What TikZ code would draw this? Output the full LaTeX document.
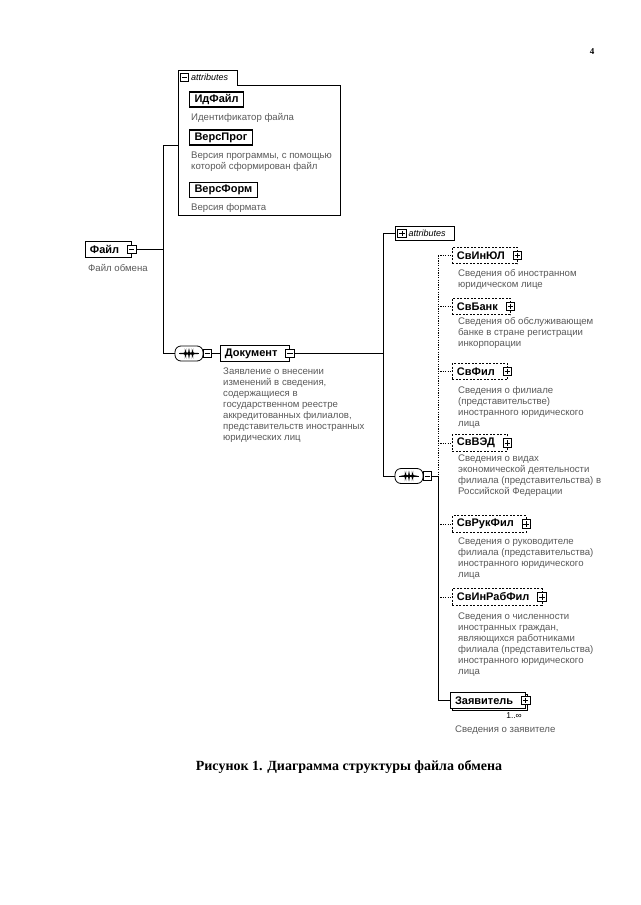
\documentclass[tikz,border=0pt]{standalone}
\usepackage{fontspec}
\setmainfont{Liberation Sans}
\newfontfamily\serifcap{Liberation Serif}
\usetikzlibrary{shadows}
\begin{document}
\begin{tikzpicture}[x=1pt,y=-1pt,
  conn/.style={line width=0.8pt},
  optconn/.style={line width=0.8pt, dash pattern=on 1.2pt off 1.2pt},
  lbl/.style={font=\fontsize{11}{13}\selectfont\bfseries},
  attrbox/.style={draw, line width=1.1pt, lbl, inner xsep=5pt, inner ysep=0pt, minimum height=15pt, anchor=west, fill=white},
  elembox/.style={draw, line width=0.9pt, lbl, inner xsep=4.5pt, inner ysep=0pt, minimum height=16.5pt, anchor=west, fill=white},
  optbox/.style={elembox, dash pattern=on 2pt off 1.5pt},
  desc/.style={font=\fontsize{9.6}{11}\selectfont, text=black!65, align=left, anchor=north west, inner sep=0pt},
  tabtext/.style={font=\fontsize{9}{10}\selectfont\itshape, anchor=west, inner sep=0pt},
  minusbox/.style={draw, fill=white, line width=0.6pt, minimum size=8.5pt, inner sep=0pt,
    path picture={\draw[line width=0.6pt] ([xshift=1.5pt]path picture bounding box.west) -- ([xshift=-1.5pt]path picture bounding box.east);}},
  plusbox/.style={draw, fill=white, line width=0.6pt, minimum size=8.5pt, inner sep=0pt,
    path picture={\draw[line width=0.6pt] ([xshift=1.5pt]path picture bounding box.west) -- ([xshift=-1.5pt]path picture bounding box.east)
      ([yshift=-1.5pt]path picture bounding box.north) -- ([yshift=1.5pt]path picture bounding box.south);}},
  compositor/.style={draw, fill=white, line width=0.8pt, rounded corners=6pt, minimum width=28pt, minimum height=15pt, inner sep=0pt,
    path picture={\draw[black, line width=0.6pt] ([xshift=4pt]path picture bounding box.west) -- ([xshift=-4pt]path picture bounding box.east);
      \foreach \dx in {-3.5,0,3.5}{\fill[black] ([xshift=\dx pt]path picture bounding box.center) +(-0.7pt,-0.7pt) rectangle +(0.7pt,0.7pt);}}}
]
\useasboundingbox (0,0) rectangle (640,905);

% page number
\node[font=\serifcap\bfseries\fontsize{9}{10}\selectfont] (pg) at (592,52) {4};

% top attributes box
\coordinate (t1a) at (178,215);
\coordinate (t1b) at (178,70);
\coordinate (t1c) at (237,70);
\coordinate (t1d) at (237,85);
\coordinate (t1e) at (340,85);
\coordinate (t1f) at (340,215);
\draw[line width=0.8pt] (t1a) -- (t1b) -- (t1c) -- (t1d) -- (t1e) -- (t1f) -- cycle;
\node[minusbox] (t1x) at (184.5,77.5) {};
\node[tabtext] (t1t) at (191,77.5) {attributes};

\node[attrbox] (idf) at (189,99.5) {ИдФайл};
\node[desc] (idfd) at (191,113.5) {Идентификатор файла};
\node[attrbox] (vprog) at (189,137.5) {ВерсПрог};
\node[desc] (vprogd) at (191,151.5) {Версия программы, с помощью\\которой сформирован файл};
\node[attrbox] (vform) at (189,190) {ВерсФорм};
\node[desc] (vformd) at (191,203.5) {Версия формата};

% root
\node[elembox] (fl) at (85,249.5) {Файл\hspace*{8pt}};
\node[minusbox] (flx) at ([xshift=-0.5pt]fl.east) {};
\node[desc] (fld) at (88,264.5) {Файл обмена};

\coordinate (j1) at (163,249.5);
\coordinate (j1t) at (163,145);
\coordinate (j1b) at (163,353.5);
\coordinate (box1w) at (178,145);
\draw[conn] (flx.east) -- (j1);
\draw[conn] (box1w) -- (j1t) -- (j1b);

% sequence 1 and Документ
\node[compositor] (seq1) at (189,353.5) {};
\node[minusbox] (seq1x) at ([xshift=4pt]seq1.east) {};
\draw[conn] (j1b) -- (seq1.west);
\node[elembox] (doc) at (220,353.5) {Документ\hspace*{8pt}};
\node[minusbox] (docx) at ([xshift=-0.5pt]doc.east) {};
\draw[conn] (seq1x.east) -- (doc.west);
\node[desc] (docd) at (223,367.5) {Заявление о внесении\\изменений в сведения,\\содержащиеся в\\государственном реестре\\аккредитованных филиалов,\\представительств иностранных\\юридических лиц};

\coordinate (j2m) at (383,353.5);
\coordinate (j2t) at (383,233.5);
\coordinate (j2b) at (383,476);
\draw[conn] (docx.east) -- (j2m);
\draw[conn] (j2t) -- (j2b);

% second attributes (collapsed)
\node[draw, line width=0.9pt, fill=white, minimum width=59pt, minimum height=14pt, anchor=west, inner sep=0pt] (attr2) at (395,233.5) {};
\node[plusbox] (attr2x) at (402,233.5) {};
\node[tabtext] (attr2t) at (408.5,233.5) {attributes};
\draw[conn] (j2t) -- (attr2.west);

% sequence 2
\node[compositor] (seq2) at (409,476) {};
\node[minusbox] (seq2x) at ([xshift=4pt]seq2.east) {};
\draw[conn] (j2b) -- (seq2.west);

\coordinate (j3t) at (438,255.5);
\coordinate (j3m) at (438,476);
\coordinate (j3b) at (438,700.5);
\draw[conn] (seq2x.east) -- (j3m);
\draw[optconn] (j3t) -- (j3m);
\draw[conn] (j3m) -- (j3b);

% children
\node[optbox] (c1) at (452,255.5) {СвИнЮЛ\hspace*{8pt}};
\node[plusbox] (c1x) at ([xshift=-0.5pt]c1.east) {};
\node[desc] (c1d) at (458,269.5) {Сведения об иностранном\\юридическом лице};

\node[optbox] (c2) at (452,306.5) {СвБанк\hspace*{8pt}};
\node[plusbox] (c2x) at ([xshift=-0.5pt]c2.east) {};
\node[desc] (c2d) at (458,317.5) {Сведения об обслуживающем\\банке в стране регистрации\\инкорпорации};

\node[optbox] (c3) at (452,371.5) {СвФил\hspace*{8pt}};
\node[plusbox] (c3x) at ([xshift=-0.5pt]c3.east) {};
\node[desc] (c3d) at (458,386.5) {Сведения о филиале\\(представительстве)\\иностранного юридического\\лица};

\node[optbox] (c4) at (452,443) {СвВЭД\hspace*{8pt}};
\node[plusbox] (c4x) at ([xshift=-0.5pt]c4.east) {};
\node[desc] (c4d) at (458,454.5) {Сведения о видах\\экономической деятельности\\филиала (представительства) в\\Российской Федерации};

\node[optbox] (c5) at (452,524) {СвРукФил\hspace*{8pt}};
\node[plusbox] (c5x) at ([xshift=-0.5pt]c5.east) {};
\node[desc] (c5d) at (458,537.5) {Сведения о руководителе\\филиала (представительства)\\иностранного юридического\\лица};

\node[optbox] (c6) at (452,597) {СвИнРабФил\hspace*{8pt}};
\node[plusbox] (c6x) at ([xshift=-0.5pt]c6.east) {};
\node[desc] (c6d) at (458,612.5) {Сведения о численности\\иностранных граждан,\\являющихся работниками\\филиала (представительства)\\иностранного юридического\\лица};

\node[elembox, line width=1pt, copy shadow={shadow xshift=2pt, shadow yshift=-2pt, draw=black, fill=white}] (c7) at (450,700.5) {Заявитель\hspace*{8pt}};
\node[plusbox] (c7x) at ([xshift=-0.5pt]c7.east) {};
\node[font=\fontsize{8.5}{10}\selectfont, anchor=north east, inner sep=0pt] (c7m) at (522,712) {1..∞};
\node[desc] (c7d) at (455,725.5) {Сведения о заявителе};

\draw[optconn] (j3t) -- (c1.west);
\draw[optconn] (c2.west -| j3t) -- (c2.west);
\draw[optconn] (c3.west -| j3t) -- (c3.west);
\draw[optconn] (c4.west -| j3t) -- (c4.west);
\draw[optconn] (c5.west -| j3t) -- (c5.west);
\draw[optconn] (c6.west -| j3t) -- (c6.west);
\draw[conn] (j3b) -- (c7.west);

% caption
\node[font=\serifcap\bfseries\fontsize{14}{16}\selectfont] (cap) at (349,767) {Рисунок 1. Диаграмма структуры файла обмена};
\end{tikzpicture}
\end{document}
